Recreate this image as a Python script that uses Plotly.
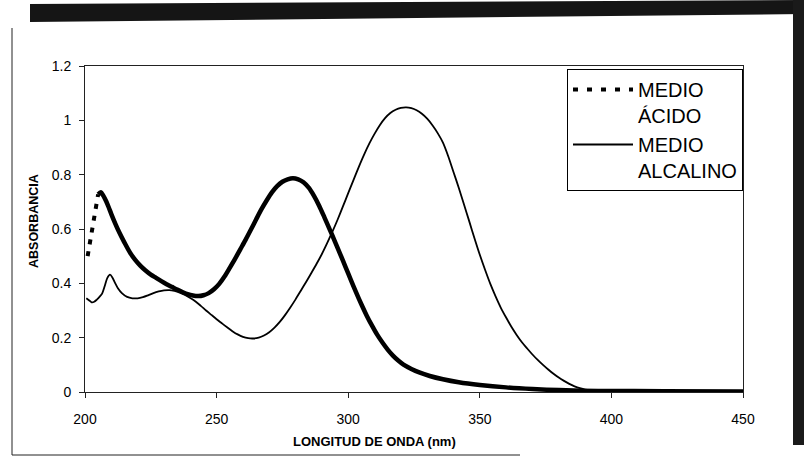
import plotly.graph_objects as go

# ---- data ----
# steep start of the acid spectrum (appears dashed in the original)
acid_start_wl = [201, 202.5, 203.8, 205]
acid_start_abs = [0.50, 0.58, 0.65, 0.728]

acid_wl = [205, 206, 207, 208, 209, 210, 211.5, 213, 215, 217, 219, 221, 223, 225, 227, 229, 231,
           233, 235, 237, 239, 241, 243, 245, 247, 249, 251, 253, 255, 257, 259, 261, 263, 265,
           267, 269, 271, 273, 275, 277, 279, 281, 283, 285, 287, 289, 291, 293, 295, 297, 299,
           301, 303, 305, 307, 309, 311, 313, 315, 317, 319, 321, 324, 327, 331, 336, 342, 350,
           360, 370, 380, 395, 420, 450]
acid_abs = [0.728, 0.735, 0.722, 0.703, 0.68, 0.655, 0.62, 0.588, 0.55, 0.515, 0.487, 0.465,
            0.447, 0.432, 0.42, 0.408, 0.397, 0.387, 0.377, 0.368, 0.36, 0.355, 0.353, 0.356,
            0.364, 0.378, 0.398, 0.425, 0.457, 0.49, 0.525, 0.56, 0.597, 0.635, 0.672, 0.705,
            0.735, 0.758, 0.774, 0.783, 0.787, 0.783, 0.772, 0.752, 0.722, 0.685, 0.642, 0.598,
            0.553, 0.507, 0.46, 0.413, 0.367, 0.323, 0.282, 0.245, 0.211, 0.182, 0.156, 0.134,
            0.116, 0.101, 0.085, 0.072, 0.059, 0.047, 0.036, 0.026, 0.017, 0.011, 0.007, 0.004,
            0.003, 0.002]

alk_wl = [200.5, 201.5, 202.5, 203.5, 204.5, 205.5, 206.5, 207.5, 208.5, 209.5, 210.5, 211.5,
          212.5, 214, 216, 218, 220, 222, 224, 226, 228, 230, 232, 234, 236, 238, 240, 242, 244,
          246, 248, 250, 252, 254, 256, 258, 260, 262, 264, 266, 268, 270, 272, 274, 276, 278,
          280, 282, 284, 286, 288, 290, 292, 294, 296, 298, 300, 302, 304, 306, 308, 310, 312,
          314, 316, 318, 320, 322, 324, 326, 328, 330, 332, 334, 336, 338, 340, 342, 344, 346,
          348, 350, 352, 354, 356, 358, 360, 362, 364, 366, 368, 370, 372, 374, 376, 378, 380,
          382, 384, 386, 388, 390, 395, 405, 425, 450]
alk_abs = [0.345, 0.338, 0.33, 0.332, 0.34, 0.35, 0.362, 0.39, 0.42, 0.432, 0.42, 0.40, 0.382,
           0.364, 0.35, 0.345, 0.345, 0.349, 0.356, 0.364, 0.37, 0.374, 0.375, 0.372, 0.366,
           0.357, 0.346, 0.333, 0.317, 0.30, 0.284, 0.268, 0.253, 0.238, 0.224, 0.212, 0.203,
           0.198, 0.197, 0.20, 0.208, 0.22, 0.237, 0.258, 0.283, 0.311, 0.341, 0.373, 0.405,
           0.438, 0.472, 0.508, 0.548, 0.59, 0.635, 0.683, 0.732, 0.78, 0.828, 0.873, 0.914,
           0.95, 0.982, 1.008, 1.027, 1.039, 1.046, 1.048, 1.045, 1.037, 1.024, 1.006, 0.982,
           0.953, 0.918, 0.868, 0.81, 0.752, 0.69, 0.628, 0.565, 0.505, 0.45, 0.398, 0.352, 0.31,
           0.274, 0.24, 0.21, 0.183, 0.16, 0.138, 0.118, 0.10, 0.083, 0.067, 0.053, 0.041, 0.03,
           0.021, 0.014, 0.009, 0.005, 0.003, 0.002, 0.002]

x_ticks = [200, 250, 300, 350, 400, 450]
y_ticks = [0, 0.2, 0.4, 0.6, 0.8, 1.0, 1.2]
y_tick_text = ["0", "0.2", "0.4", "0.6", "0.8", "1", "1.2"]

name_acid = "MEDIO<br>ÁCIDO"
name_alk = "MEDIO<br>ALCALINO"
x_title = "LONGITUD DE ONDA (nm)"
y_title = "ABSORBANCIA"

# ---- layout geometry ----
W, H = 804, 463
L, R, T, B = 85, 61, 66, 71
pw, ph = W - L - R, H - T - B


def xp(px):
    return (px - L) / pw


def yp(py):
    return (H - B - py) / ph


FONT = "Liberation Sans, Arial, sans-serif"

fig = go.Figure()
fig.add_trace(go.Scatter(x=acid_start_wl, y=acid_start_abs, mode="lines", name=name_acid,
                         line=dict(color="black", width=4, dash="5px,7px"), showlegend=False))
fig.add_trace(go.Scatter(x=acid_wl, y=acid_abs, mode="lines", name=name_acid,
                         line=dict(color="black", width=4.5, shape="spline", smoothing=0.8),
                         showlegend=False))
# legend proxy with the dashed style of the original legend
fig.add_trace(go.Scatter(x=[None], y=[None], mode="lines", name=name_acid,
                         line=dict(color="black", width=4, dash="5px,9px")))
fig.add_trace(go.Scatter(x=alk_wl, y=alk_abs, mode="lines", name=name_alk,
                         line=dict(color="black", width=1.8, shape="spline", smoothing=0.8)))

axis_common = dict(showgrid=False, zeroline=False, showline=True, linecolor="#222", linewidth=1,
                   mirror=True, ticks="outside", tickcolor="#222", ticklen=5,
                   tickfont=dict(family=FONT, size=14, color="black"))

fig.update_xaxes(range=[200, 450], tickvals=x_ticks, ticklabelstandoff=9, **axis_common)
fig.update_yaxes(range=[0, 1.2], tickvals=y_ticks, ticktext=y_tick_text, ticklabelstandoff=5,
                 **axis_common)

shapes = [
    dict(type="path", xref="paper", yref="paper",
         path=f"M{xp(30)},{yp(4)} L{xp(804)},{yp(0)} L{xp(804)},{yp(14)} L{xp(30)},{yp(22)} Z",
         fillcolor="#151515", line=dict(width=0), layer="above"),
    dict(type="rect", xref="paper", yref="paper", x0=xp(793), x1=xp(806), y0=yp(445), y1=yp(0),
         fillcolor="#1a1a1a", line=dict(width=0)),
    dict(type="line", xref="paper", yref="paper", x0=xp(12), x1=xp(12), y0=yp(28), y1=yp(455),
         line=dict(color="#222", width=1)),
    dict(type="line", xref="paper", yref="paper", x0=xp(12), x1=xp(520), y0=yp(455), y1=yp(455),
         line=dict(color="#222", width=1)),
]

annotations = [
    dict(text=f"<b>{x_title}</b>", xref="paper", yref="paper", x=xp(374), y=yp(441),
         showarrow=False, font=dict(family=FONT, size=13, color="black"),
         xanchor="center", yanchor="middle"),
    dict(text=f"<b>{y_title}</b>", xref="paper", yref="paper", x=xp(34), y=yp(221),
         showarrow=False, textangle=-90, font=dict(family=FONT, size=12.5, color="black"),
         xanchor="center", yanchor="middle"),
]

fig.update_layout(
    width=W, height=H, margin=dict(l=L, r=R, t=T, b=B),
    paper_bgcolor="white", plot_bgcolor="white",
    font=dict(family=FONT, color="black"),
    shapes=shapes, annotations=annotations,
    legend=dict(x=xp(567), y=yp(69), xanchor="left", yanchor="top",
                bgcolor="white", bordercolor="black", borderwidth=1,
                font=dict(family=FONT, size=20, color="black"),
                valign="top", itemwidth=60, tracegroupgap=0),
)

fig.write_html("out.html")
